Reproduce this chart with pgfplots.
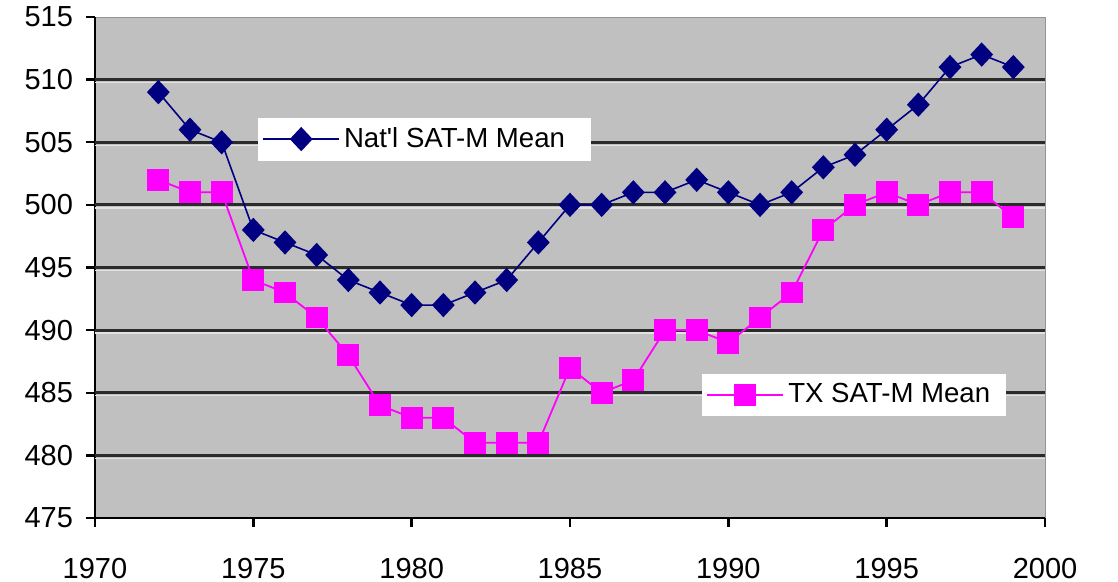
\documentclass[border=0pt]{standalone}
\usepackage{fontspec}
\setmainfont{Liberation Sans}
\usepackage{pgfplots}
\pgfplotsset{compat=1.18}

\definecolor{bg}{HTML}{C0C0C0}
\definecolor{navyc}{HTML}{000080}
\definecolor{mag}{HTML}{FF00FF}
\definecolor{gridc}{HTML}{2B2B2B}
\definecolor{hilite}{HTML}{E2E2E2}

\pgfplotsset{
  base/.style={
    scale only axis, width=475pt, height=250.5pt,
    xmin=1970, xmax=2000, ymin=475, ymax=515,
    legend image code/.code={\draw[mark repeat=2,mark phase=2,##1] plot coordinates {(0pt,0pt) (19pt,0pt) (38pt,0pt)};},
    legend style={draw=none, fill=white, font=\fontsize{13.8}{16}\selectfont,
      inner xsep=2pt, inner ysep=3pt, cells={anchor=west}},
  },
}

\begin{document}
\begin{tikzpicture}
\begin{axis}[base,
  axis background/.style={fill=bg, draw=gray!85},
  axis x line*=bottom, axis y line*=left,
  axis line style={-, black, line width=1.2pt},
  xtick={1970,1975,...,2000}, ytick={475,480,...,515},
  tick align=outside, major tick length=4.5pt,
  tick style={black, line width=1.2pt},
  extra y ticks={480,485,...,510}, extra y tick labels={},
  extra y tick style={grid=major, major tick length=0pt},
  grid style={gridc, line width=1.6pt,
    postaction={draw=hilite, line width=0.7pt, transform canvas={yshift=-1.5pt}}},
  every tick label/.append style={font=\fontsize{14.5}{16}\selectfont},
  /pgf/number format/assume math mode=true,
  xticklabel style={/pgf/number format/1000 sep={}, yshift=-12pt},
  yticklabel style={xshift=-3pt},
  legend style={at={(0.1716,0.800)}, anchor=north west},
]
\addplot[navyc, line width=0.8pt, mark=diamond*, mark size=5.5pt,
  mark options={xscale=1.25, solid, fill=navyc}] coordinates {
(1972,509) (1973,506) (1974,505) (1975,498) (1976,497) (1977,496)
(1978,494) (1979,493) (1980,492) (1981,492) (1982,493) (1983,494)
(1984,497) (1985,500) (1986,500) (1987,501) (1988,501) (1989,502)
(1990,501) (1991,500) (1992,501) (1993,503) (1994,504) (1995,506)
(1996,508) (1997,511) (1998,512) (1999,511)
};
\addlegendentry{Nat\textquotesingle l SAT-M Mean\hspace*{9pt}}
\end{axis}
\begin{axis}[base, hide axis,
  legend style={at={(0.639,0.289)}, anchor=north west},
]
\addplot[mag, line width=0.9pt, mark=square*, mark size=5pt,
  mark options={solid, fill=mag}] coordinates {
(1972,502) (1973,501) (1974,501) (1975,494) (1976,493) (1977,491)
(1978,488) (1979,484) (1980,483) (1981,483) (1982,481) (1983,481)
(1984,481) (1985,487) (1986,485) (1987,486) (1988,490) (1989,490)
(1990,489) (1991,491) (1992,493) (1993,498) (1994,500) (1995,501)
(1996,500) (1997,501) (1998,501) (1999,499)
};
\addlegendentry{TX SAT-M Mean\hspace*{4pt}}
\end{axis}
\pgfresetboundingbox
\path ([shift={(-47.5pt,-32pt)}]current axis.south west) rectangle ([shift={(36.5pt,8.5pt)}]current axis.north east);
\end{tikzpicture}
\end{document}
